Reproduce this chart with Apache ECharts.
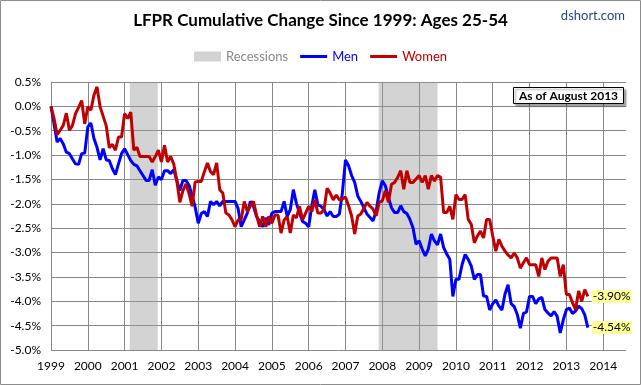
<!DOCTYPE html>
<html><head><meta charset="utf-8">
<script src="https://cdn.jsdelivr.net/npm/echarts@6/dist/echarts.min.js"></script>
<style>html,body{margin:0;padding:0;background:#fff}#c{width:641px;height:385px}</style>
</head><body><div id="c"></div>
<script>
// Monthly data, Jan 1999 .. Aug 2013 (cumulative change in LFPR, %)
const startYear = 1999;
const men = [
  0.00,-0.36,-0.73,-0.66,-0.77,-0.94,-0.97,-1.08,-1.18,-1.19,-0.97,-0.96,
  -0.42,-0.34,-0.66,-0.84,-1.10,-0.87,-1.10,-1.11,-1.28,-1.40,-1.18,-0.97,
  -0.87,-0.99,-1.11,-1.19,-1.22,-1.32,-1.42,-1.52,-1.52,-1.30,-1.62,-1.45,
  -1.50,-1.32,-1.32,-1.38,-1.30,-1.52,-1.73,-1.52,-1.52,-1.62,-1.83,-2.07,
  -2.40,-2.20,-2.16,-2.26,-1.95,-2.02,-1.95,-2.04,-1.95,-1.95,-1.95,-1.95,
  -1.95,-2.10,-2.47,-2.33,-2.19,-1.95,-2.05,-2.26,-2.36,-2.47,-2.29,-2.43,
  -2.19,-2.16,-2.16,-2.16,-1.95,-2.26,-2.12,-1.71,-1.99,-2.19,-2.36,-2.40,
  -2.47,-2.05,-1.71,-2.02,-2.05,-2.12,-2.25,-2.16,-2.26,-2.26,-2.21,-1.77,
  -1.10,-1.22,-1.42,-1.56,-1.84,-1.95,-2.08,-2.21,-2.28,-2.35,-2.14,-1.77,
  -1.53,-1.63,-1.87,-2.08,-2.18,-2.18,-2.04,-2.16,-2.20,-2.32,-2.49,-2.83,
  -2.76,-2.93,-3.07,-2.93,-2.62,-2.76,-2.84,-2.62,-2.90,-3.03,-3.14,-3.90,
  -3.55,-3.55,-3.25,-3.04,-3.14,-3.28,-3.55,-3.45,-3.45,-3.89,-3.90,-4.18,
  -4.05,-3.97,-4.10,-4.18,-3.85,-3.66,-4.05,-4.11,-4.27,-4.55,-4.25,-4.22,
  -3.90,-3.90,-4.05,-3.95,-3.92,-4.17,-4.24,-4.30,-4.21,-4.31,-4.65,-4.38,
  -4.17,-4.14,-4.25,-4.20,-4.10,-4.15,-4.28,-4.54
];
const women = [
  0.00,-0.25,-0.58,-0.49,-0.39,-0.14,-0.49,-0.39,-0.15,-0.02,0.12,-0.36,
  -0.01,-0.08,0.23,0.40,-0.01,-0.20,-0.40,-0.85,-0.78,-0.90,-0.63,-0.63,
  -0.15,-0.25,-0.12,-0.90,-0.84,-1.03,-1.03,-1.03,-1.03,-1.14,-1.03,-0.90,
  -1.14,-0.80,-1.14,-1.03,-1.18,-1.52,-1.97,-1.73,-1.59,-1.79,-2.05,-1.55,
  -1.54,-1.54,-1.34,-1.16,-1.34,-1.40,-1.16,-1.71,-1.78,-2.19,-2.23,-2.33,
  -2.47,-2.33,-2.32,-1.95,-2.16,-2.05,-1.95,-2.23,-2.47,-2.26,-2.47,-2.26,
  -2.40,-2.23,-2.23,-2.60,-2.33,-2.26,-2.60,-2.23,-2.29,-2.05,-2.33,-2.19,
  -2.05,-2.16,-1.92,-2.19,-2.19,-2.12,-1.68,-1.78,-1.92,-1.82,-1.92,-1.90,
  -1.86,-2.04,-2.25,-2.62,-2.25,-2.21,-2.09,-1.97,-2.05,-2.11,-2.25,-1.97,
  -1.94,-1.73,-1.97,-1.60,-1.56,-1.46,-1.32,-1.70,-1.32,-1.56,-1.56,-1.49,
  -1.42,-1.56,-1.42,-1.70,-1.42,-1.53,-1.42,-1.45,-2.18,-2.18,-2.05,-2.32,
  -1.81,-1.91,-1.91,-1.81,-2.32,-2.42,-2.80,-2.66,-2.56,-2.70,-2.32,-2.32,
  -2.66,-2.97,-2.73,-2.87,-2.97,-3.05,-3.11,-3.01,-3.11,-3.32,-3.21,-3.11,
  -3.25,-3.25,-3.25,-3.49,-3.11,-3.35,-3.18,-3.11,-3.11,-3.11,-3.49,-3.25,
  -3.86,-3.86,-4.03,-4.17,-3.79,-4.00,-3.76,-3.90
];
const recessions = [[2001.14, 2001.90], [2007.90, 2009.50]];
const xMin = 1999, xMax = 2014.62;
const yMin = -5, yMax = 0.5, yStep = 0.5;

const toPairs = arr => arr.map((v, i) => [startYear + i / 12, v]);
const FONT = 'Lato';
const lineIcon = 'path://M0,0M27,10M0,3.5L27,3.5L27,6.5L0,6.5Z';

const chart = echarts.init(document.getElementById('c'), null, {renderer: 'canvas'});
const endLabel = {
  show: true,
  formatter: p => p.value[1].toFixed(2) + '%',
  backgroundColor: '#ffff99',
  color: '#000',
  fontSize: 12,
  fontFamily: FONT,
  padding: [1, 1, 0, 1],
  distance: 4
};
chart.setOption({
  animation: false,
  textStyle: {fontFamily: FONT},
  title: [
    {text: 'LFPR Cumulative Change Since 1999: Ages 25-54', left: 'center', top: 12, padding: 0,
     textStyle: {fontSize: 17, fontWeight: 'bold', color: '#000', fontFamily: FONT}},
    {text: 'dshort.com', right: 16, top: 9, padding: 0,
     textStyle: {fontSize: 13, fontWeight: 'normal', color: '#1F497D', fontFamily: FONT}},
    {text: 'As of August 2013', left: 513, top: 87, padding: [3, 6, 2, 6],
     backgroundColor: '#fff', borderColor: '#000', borderWidth: 1,
     shadowColor: 'rgba(0,0,0,0.35)', shadowBlur: 2, shadowOffsetX: 2, shadowOffsetY: 2,
     textStyle: {fontSize: 12, fontWeight: 'bold', color: '#000', fontFamily: FONT}}
  ],
  legend: {
    left: 'center', top: 45, itemWidth: 27, itemHeight: 10, itemGap: 12,
    textStyle: {fontSize: 13, fontFamily: FONT},
    data: [
      {name: 'Recessions', icon: 'rect', itemStyle: {color: '#d3d3d3'}, textStyle: {color: '#888'}},
      {name: 'Men', icon: lineIcon, itemStyle: {color: '#0000ff'}, textStyle: {color: '#0000ff'}},
      {name: 'Women', icon: lineIcon, itemStyle: {color: '#c00000'}, textStyle: {color: '#c00000'}}
    ]
  },
  grid: {left: 51, right: 15, top: 82, bottom: 35, containLabel: false},
  xAxis: {
    type: 'value', min: xMin, max: xMax, interval: 1,
    axisLine: {lineStyle: {color: '#888'}},
    axisTick: {show: false},
    axisLabel: {formatter: v => Number.isInteger(v) ? String(v) : '', color: '#000', fontSize: 12, margin: 10, showMaxLabel: false},
    splitLine: {show: true, showMaxLine: false, lineStyle: {color: '#888', width: 1}}
  },
  yAxis: {
    type: 'value', min: yMin, max: yMax, interval: yStep,
    axisLine: {show: true, lineStyle: {color: '#888'}},
    axisTick: {show: false},
    axisLabel: {formatter: v => v.toFixed(1) + '%', color: '#000', fontSize: 12, margin: 10},
    splitLine: {show: true, lineStyle: {color: '#888', width: 1}}
  },
  series: [
    {name: 'Recessions', type: 'line', data: [], color: '#d3d3d3', symbol: 'none',
     markArea: {silent: true, itemStyle: {color: 'rgba(150,150,150,0.42)'},
       data: recessions.map(r => [{xAxis: r[0]}, {xAxis: r[1]}])}},
    {name: 'Men', type: 'line', data: toPairs(men), symbol: 'none', color: '#0000ff',
     lineStyle: {color: '#0000ff', width: 3}, endLabel: endLabel},
    {name: 'Women', type: 'line', data: toPairs(women), symbol: 'none', color: '#c00000',
     lineStyle: {color: '#c00000', width: 3}, endLabel: endLabel}
  ],
  graphic: [
    {type: 'rect', silent: true, z: 100, shape: {x: 0.5, y: 0.5, width: 640, height: 384},
     style: {fill: 'none', stroke: '#8c8c8c', lineWidth: 1}}
  ]
});
</script></body></html>
